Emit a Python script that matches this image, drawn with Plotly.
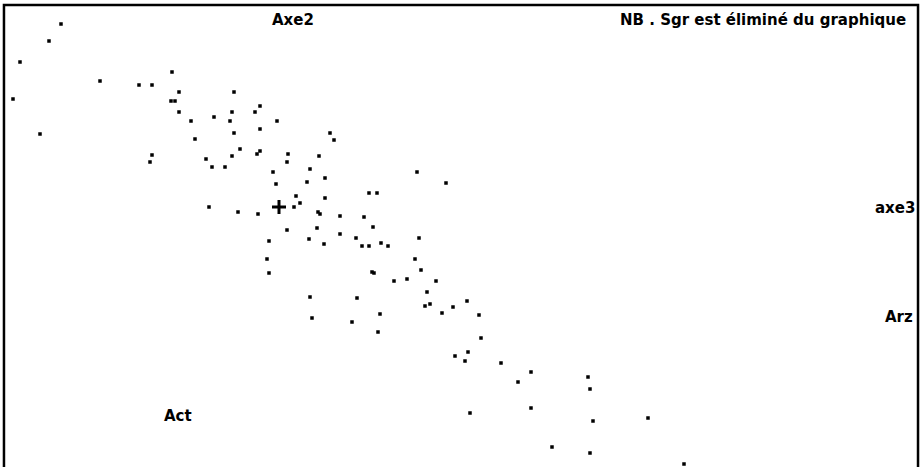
import plotly.graph_objects as go

# Factor scores (axe3 horizontal, axe2 vertical)
axe3_scores = [-2.18, -2.30, -2.59, -2.66, -2.39, -1.79, -1.40, -1.27, -1.07, -1.00,
               -1.08, -1.04, -1.00, -0.88, -0.84, -0.65, -0.45, -0.47, -0.49, -0.45,
               -0.24, -0.19, -0.19, -0.02, -1.27, -0.73, -0.47, -0.39, -0.22, -0.19,
               0.09, 0.40, 0.51, 0.55, -1.29, -0.67, -0.54, 0.08, 0.31, -0.06,
               -0.03, 0.28, 0.17, 0.21, 0.15, -0.70, -0.41, -0.21, 0.39, 0.41,
               0.38, 0.08, 0.30, -0.10, -0.12, -0.10, 0.31, 0.46, 0.46, 1.38,
               1.67, 0.90, 0.98, 0.61, 0.85, 0.94, 0.45, 0.61, 0.77, 0.83,
               0.90, 1.02, 1.09, 1.40, 1.36, 1.42, 0.93, 0.95, 1.15, 1.28,
               1.57, 1.48, 0.78, 1.51, 1.46, 1.74, 1.88, 0.33, 0.73, 1.01,
               0.99, 1.63, 2.00, 2.02, 1.76, 1.89, 1.86, 2.22, 2.52, 2.39,
               3.09, 3.11, 2.52, 1.91, 3.14, 2.73, 3.11, 3.69, 4.05]
axe2_scores = [1.83, 1.66, 1.45, 1.08, 0.73, 1.26, 1.22, 1.22, 1.35, 1.15,
               1.06, 1.06, 0.95, 0.86, 0.68, 0.90, 1.15, 0.95, 0.86, 0.74,
               0.95, 1.01, 0.78, 0.86, 0.52, 0.48, 0.51, 0.58, 0.53, 0.56,
               0.53, 0.51, 0.74, 0.67, 0.45, 0.40, 0.40, 0.45, 0.38, 0.35,
               0.23, 0.25, 0.11, 0.04, 0.00, 0.00, -0.05, -0.07, -0.05, -0.07,
               -0.21, -0.23, -0.32, -0.34, -0.52, -0.66, -0.90, 0.29, 0.09, 0.35,
               0.24, 0.14, 0.14, -0.09, -0.10, -0.20, -0.37, -0.27, -0.31, -0.39,
               -0.39, -0.36, -0.39, -0.31, -0.52, -0.63, -0.65, -0.66, -0.74, -0.72,
               -0.74, -0.85, -0.91, -0.97, -0.99, -1.00, -0.94, -1.11, -1.15, -1.07,
               -1.25, -1.06, -1.08, -1.31, -1.49, -1.45, -1.54, -1.56, -1.65, -1.75,
               -1.70, -1.82, -2.01, -2.06, -2.14, -2.40, -2.46, -2.11, -2.57]

centre = [0.0, 0.0]

var_labels = ["Act", "Arz"]
var_x = [-1.01, 6.36]
var_y = [-2.09, -1.10]

axis_title_x = "axe3"
axis_title_y = "Axe2"
note_text = "NB . Sgr est éliminé du graphique"

FONT = dict(family="DejaVu Sans", size=15, color="black")

fig = go.Figure()
fig.add_trace(go.Scatter(
    x=axe3_scores, y=axe2_scores, mode="markers",
    marker=dict(symbol="square", size=3.5, color="black", line=dict(width=0)),
    hoverinfo="x+y", showlegend=False))
fig.add_trace(go.Scatter(
    x=[centre[0]], y=[centre[1]], mode="markers",
    marker=dict(symbol="cross-thin", size=10, color="black",
                line=dict(width=3, color="black")),
    showlegend=False))

ann = []
ann.append(dict(x=0.14, y=1.87, text="<b>" + axis_title_y + "</b>", xanchor="center", yanchor="middle"))
ann.append(dict(x=6.38, y=-0.01, text="<b>" + axis_title_x + "</b>", xanchor="right", yanchor="middle"))
ann.append(dict(x=6.29, y=1.87, text="<b>" + note_text + "</b>", xanchor="right", yanchor="middle"))
for t, xx, yy in zip(var_labels, var_x, var_y):
    ann.append(dict(x=xx, y=yy, text="<b>" + t + "</b>",
                    xanchor="right" if xx > 3 else "center", yanchor="middle"))
for a in ann:
    a.update(xref="x", yref="y", showarrow=False, font=FONT)

fig.update_layout(
    width=923, height=467,
    margin=dict(l=0, r=0, t=0, b=0),
    paper_bgcolor="white", plot_bgcolor="white",
    annotations=ann,
    xaxis=dict(range=[-2.79, 6.44], visible=False, fixedrange=True),
    yaxis=dict(range=[-2.60, 2.07], visible=False, fixedrange=True),
    shapes=[dict(type="path", xref="paper", yref="paper",
                 path="M 0.0043,0 L 0.0043,0.9893 L 0.9946,0.9893 L 0.9946,0",
                 line=dict(color="black", width=2.5))],
)

fig.write_html("out.html")
